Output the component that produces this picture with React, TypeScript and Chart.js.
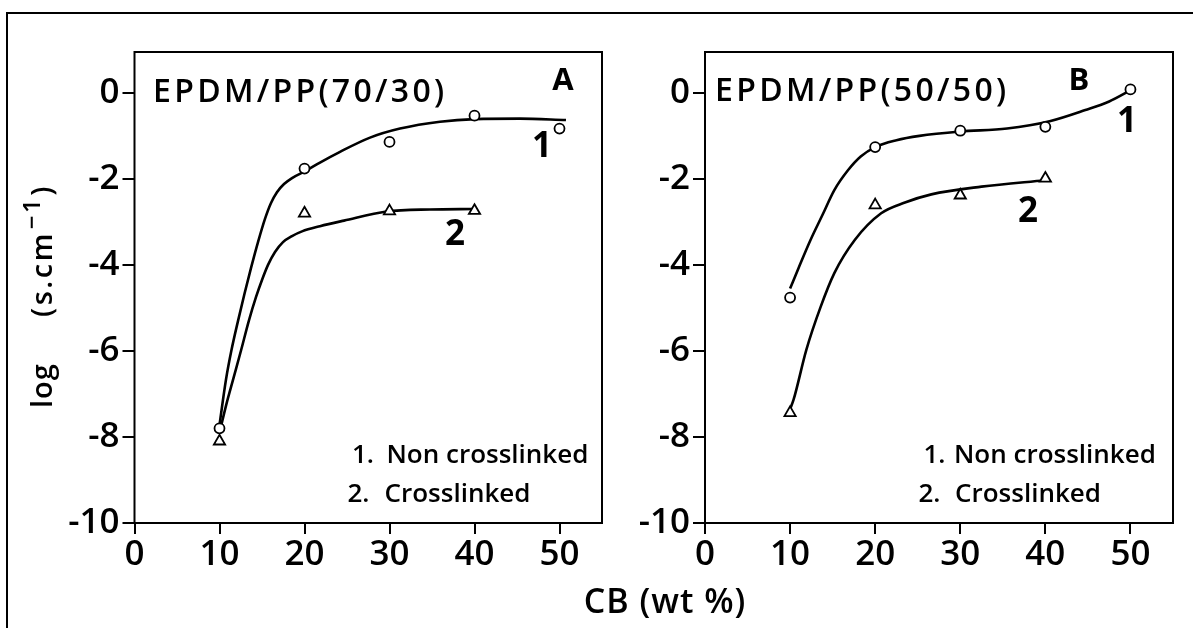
import React, { useEffect, useRef } from 'react';
import { Chart, registerables } from 'chart.js';

Chart.register(...registerables);

// ---- tick labels ----
const xTickValues = [0, 10, 20, 30, 40, 50];
const yTickValues = [0, -2, -4, -6, -8, -10];

// ---- Panel A : EPDM/PP(70/30) measured points ----
const cbNonA = [10, 20, 30, 40, 50];
const logNonA = [-7.8, -1.76, -1.14, -0.53, -0.83];
const cbCrossA = [10, 20, 30, 40];
const logCrossA = [-8.1, -2.8, -2.75, -2.74];

// drawn (hand-fitted) curves of panel A
const fitNonAx = [10, 10.76, 11.41, 12.18, 12.94, 13.71, 14.53, 15.35, 16.06, 16.76, 17.59, 18.53, 20.18, 21.82, 24.18, 27.71, 31.24, 35.94, 40.06, 45.35, 50.76];
const fitNonAy = [-7.72, -6.67, -5.98, -5.3, -4.67, -4.07, -3.47, -2.93, -2.56, -2.31, -2.12, -1.98, -1.81, -1.62, -1.37, -1.04, -0.83, -0.67, -0.61, -0.6, -0.63];
const fitCrossAx = [10, 10.82, 11.62, 12.53, 13.45, 14.29, 15.0, 15.71, 16.53, 17.47, 18.53, 19.71, 21.82, 24.65, 29.65, 34.76, 40.0];
const fitCrossAy = [-7.9, -7.23, -6.65, -5.99, -5.3, -4.75, -4.35, -4.0, -3.7, -3.47, -3.33, -3.22, -3.1, -2.97, -2.76, -2.71, -2.7];

// ---- Panel B : EPDM/PP(50/50) measured points ----
const cbNonB = [10, 20, 30, 40, 50];
const logNonB = [-4.76, -1.26, -0.88, -0.79, 0.08];
const cbCrossB = [10, 20, 30, 40];
const logCrossB = [-7.44, -2.61, -2.38, -1.99];

const fitNonBx = [10, 11, 12.4, 13.8, 15.2, 16.8, 18.3, 20, 22.5, 25.2, 30, 35.5, 40.5, 44.7, 47.5, 50];
const fitNonBy = [-4.55, -4.07, -3.42, -2.84, -2.26, -1.8, -1.48, -1.26, -1.1, -1.0, -0.9, -0.83, -0.66, -0.4, -0.2, 0.06];
const fitCrossBx = [10, 10.4, 11.9, 13.6, 15.2, 17.6, 20.7, 23.5, 26.6, 32.5, 40];
const fitCrossBy = [-7.35, -7.14, -5.98, -4.97, -4.19, -3.42, -2.8, -2.55, -2.36, -2.18, -2.03];

const FONT = '"Open Sans", "DejaVu Sans", sans-serif';
const W = '600';

const pts = (xs: number[], ys: number[]) => xs.map((x, i) => ({ x, y: ys[i] }));

type TextItem = { text: string; x: number; y: number; font: string; align?: CanvasTextAlign; ls?: string };

const annotPlugin = {
  id: 'annot',
  afterDraw(chart: any, _args: any, opts: any) {
    const ctx: CanvasRenderingContext2D = chart.ctx;
    const a = chart.chartArea;
    ctx.save();
    ctx.strokeStyle = '#000';
    ctx.lineWidth = 2;
    ctx.strokeRect(a.left, a.top, a.right - a.left, a.bottom - a.top);
    ctx.fillStyle = '#000';
    ctx.textBaseline = 'alphabetic';
    const off = opts.offsetX || 0;
    (opts.texts || []).forEach((t: TextItem) => {
      ctx.font = t.font;
      ctx.textAlign = t.align || 'left';
      (ctx as any).letterSpacing = t.ls || '0px';
      ctx.fillText(t.text, t.x - off, t.y);
    });
    (ctx as any).letterSpacing = '0px';
    if (opts.yTitle) {
      const yt = opts.yTitle;
      ctx.save();
      ctx.translate(yt.x - off, yt.y);
      ctx.rotate(-Math.PI / 2);
      ctx.textAlign = 'left';
      ctx.font = `${W} 29px ${FONT}`;
      (ctx as any).letterSpacing = '1px';
      ctx.fillText('log', 0, 0);
      (ctx as any).letterSpacing = '2.5px';
      let px = yt.gap;
      ctx.fillText('(s.cm', px, 0);
      px += ctx.measureText('(s.cm').width + 2;
      ctx.font = `${W} 24px ${FONT}`;
      ctx.fillText('\u22121', px, -12);
      px += ctx.measureText('\u22121').width + 1;
      ctx.font = `${W} 29px ${FONT}`;
      ctx.fillText(')', px, 0);
      ctx.restore();
    }
    ctx.restore();
  },
};

function makeConfig(opts: {
  nonX: number[]; nonY: number[]; crossX: number[]; crossY: number[];
  fitNX: number[]; fitNY: number[]; fitCX: number[]; fitCY: number[];
  yWidth: number; padRight: number; annot: any;
}) {
  const curve = (data: any) => ({
    data,
    showLine: true,
    borderColor: '#000',
    borderWidth: 2.6,
    pointRadius: 0,
    cubicInterpolationMode: 'monotone',
    fill: false,
    order: 2,
  });
  const marks = (data: any, style: string, r: number) => ({
    data,
    showLine: false,
    pointStyle: style,
    pointRadius: r,
    pointBackgroundColor: '#fff',
    pointBorderColor: '#000',
    pointBorderWidth: 1.8,
    order: 0,
  });
  const tickFont = { family: FONT, size: 35, weight: W };
  return {
    type: 'scatter',
    data: {
      datasets: [
        curve(pts(opts.fitNX, opts.fitNY)),
        curve(pts(opts.fitCX, opts.fitCY)),
        marks(pts(opts.nonX, opts.nonY), 'circle', 5),
        marks(pts(opts.crossX, opts.crossY), 'triangle', 6.5),
      ],
    },
    options: {
      responsive: false,
      animation: false,
      devicePixelRatio: 1,
      layout: { padding: { left: 0, right: opts.padRight, top: 52, bottom: 55 } },
      plugins: { legend: { display: false }, tooltip: { enabled: false }, annot: opts.annot },
      scales: {
        x: {
          type: 'linear',
          min: 0,
          max: 55,
          afterBuildTicks: (s: any) => { s.ticks = xTickValues.map((v) => ({ value: v })); },
          afterFit: (s: any) => { s.height = 50; },
          ticks: { font: tickFont, color: '#000', padding: 0, maxRotation: 0, autoSkip: false },
          grid: { drawOnChartArea: false, drawTicks: true, tickLength: 11, color: '#000', lineWidth: 2 },
          border: { display: false },
        },
        y: {
          type: 'linear',
          min: -10,
          max: 0.95,
          afterBuildTicks: (s: any) => { s.ticks = yTickValues.map((v) => ({ value: v })); },
          afterFit: (s: any) => { s.width = opts.yWidth; },
          ticks: { font: tickFont, color: '#000', padding: 3, callback: (v: any) => String(v) },
          grid: { drawOnChartArea: false, drawTicks: true, tickLength: 12, color: '#000', lineWidth: 2 },
          border: { display: false },
        },
      },
    },
    plugins: [annotPlugin],
  } as any;
}

export default function App() {
  const leftRef = useRef<HTMLCanvasElement>(null);
  const rightRef = useRef<HTMLCanvasElement>(null);

  useEffect(() => {
    const legendFont = `${W} 26px ${FONT}`;
    const titleFont = `${W} 32px ${FONT}`;
    const boldFont = `bold 35px ${FONT}`;
    const letterFont = `bold 31px ${FONT}`;
    const left = new Chart(leftRef.current!, makeConfig({
      nonX: cbNonA, nonY: logNonA, crossX: cbCrossA, crossY: logCrossA,
      fitNX: fitNonAx, fitNY: fitNonAy, fitCX: fitCrossAx, fitCY: fitCrossAy,
      yWidth: 114.5, padRight: 18,
      annot: {
        offsetX: 20,
        texts: [
          { text: 'EPDM/PP(70/30)', x: 153, y: 101.5, font: titleFont, ls: '3.3px' },
          { text: 'A', x: 563, y: 90, font: letterFont, align: 'center' },
          { text: '1', x: 542, y: 156.5, font: boldFont, align: 'center' },
          { text: '2', x: 455, y: 245, font: boldFont, align: 'center' },
          { text: '1.', x: 352, y: 463, font: legendFont },
          { text: 'Non crosslinked', x: 386.5, y: 463, font: legendFont },
          { text: '2.', x: 347.5, y: 501.5, font: legendFont },
          { text: 'Crosslinked', x: 384.5, y: 501.5, font: legendFont },
        ],
        yTitle: { x: 52, y: 408, gap: 91 },
      },
    }));
    const right = new Chart(rightRef.current!, makeConfig({
      nonX: cbNonB, nonY: logNonB, crossX: cbCrossB, crossY: logCrossB,
      fitNX: fitNonBx, fitNY: fitNonBy, fitCX: fitCrossBx, fitCY: fitCrossBy,
      yWidth: 85, padRight: 20,
      annot: {
        offsetX: 620,
        texts: [
          { text: 'EPDM/PP(50/50)', x: 715, y: 100.5, font: titleFont, ls: '3.3px' },
          { text: 'B', x: 1079, y: 90, font: letterFont, align: 'center' },
          { text: '1', x: 1127, y: 131.5, font: boldFont, align: 'center' },
          { text: '2', x: 1028, y: 222, font: boldFont, align: 'center' },
          { text: '1.', x: 923.5, y: 463, font: legendFont },
          { text: 'Non crosslinked', x: 954, y: 463, font: legendFont },
          { text: '2.', x: 918.5, y: 501.5, font: legendFont },
          { text: 'Crosslinked', x: 955, y: 501.5, font: legendFont },
        ],
      },
    }));
    return () => { left.destroy(); right.destroy(); };
  }, []);

  return (
    <div style={{ position: 'absolute', left: 0, top: 0, width: 1193, height: 628, background: '#fff', overflow: 'hidden' }}>
      <div style={{ position: 'absolute', left: 6, top: 12, width: 1187, height: 2, background: '#000' }} />
      <div style={{ position: 'absolute', left: 6, top: 12, width: 2, height: 616, background: '#000' }} />
      <canvas ref={leftRef} width={600} height={628} style={{ position: 'absolute', left: 20, top: 0, width: 600, height: 628 }} />
      <canvas ref={rightRef} width={573} height={628} style={{ position: 'absolute', left: 620, top: 0, width: 573, height: 628 }} />
      <div style={{ position: 'absolute', left: 565, top: 583, width: 200, textAlign: 'center', fontFamily: FONT, fontWeight: 600, fontSize: 34, lineHeight: '34px', letterSpacing: '1px', color: '#000', whiteSpace: 'nowrap' }}>
        CB (wt %)
      </div>
    </div>
  );
}
